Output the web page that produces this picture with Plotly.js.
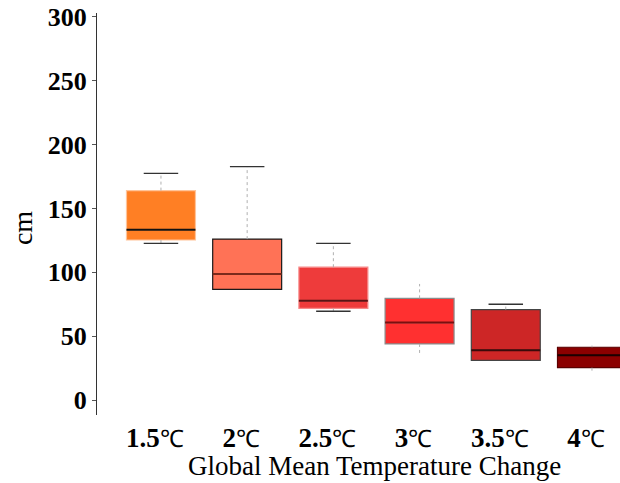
<!DOCTYPE html>
<html><head><meta charset="utf-8">
<script src="https://cdn.plot.ly/plotly-3.0.1.min.js"></script>
<style>body{margin:0;background:#fff}</style></head>
<body><div id="chart" style="width:620px;height:483px"></div>
<script>
const categories = ["1.5", "2", "2.5", "3", "3.5", "4"];
const lowerWhisker = [122.7, 86.7, 69.5, 35.8, 31.1, 22.7];
const q1 = [125.3, 86.7, 71.8, 43.9, 31.1, 25.3];
const median = [133.4, 98.7, 77.8, 60.6, 38.9, 35.0];
const q3 = [164.0, 126.0, 104.0, 79.6, 70.8, 41.3];
const upperWhisker = [177.5, 182.8, 122.7, 90.9, 75.0, 42.6];
const hasCaps = [true, true, true, false, true, false];
const fillColors = ["#FF7F24", "#FF7256", "#EE3B3B", "#FF3030", "#CD2626", "#8B0000"];
const outlineColors = ["#FFC49A", "#1a1a1a", "#F78A8A", "#8a8a8a", "#444444", "#5a0000"];
const medianColors = ["#111111", "#7a2a1c", "#5a1515", "#7a1010", "#3a0a0a", "#1a0000"];

const BOX_W = 0.8, CAP_HALF = 0.2;
const traces = [];
const idx = categories.map((c, i) => i);

// whiskers (dotted)
const wx = [], wy = [];
idx.forEach(i => {
  wx.push(i, i, null, i, i, null);
  wy.push(q3[i], upperWhisker[i], null, q1[i], lowerWhisker[i], null);
});
traces.push({type: 'scatter', mode: 'lines', x: wx, y: wy, hoverinfo: 'skip',
  line: {color: '#b0b0b0', width: 1, dash: 'dot'}, showlegend: false});

// boxes
idx.forEach(i => {
  traces.push({type: 'box', x: [i], q1: [q1[i]], median: [median[i]], q3: [q3[i]],
    lowerfence: [q1[i]], upperfence: [q3[i]], width: BOX_W, whiskerwidth: 0,
    boxpoints: false, fillcolor: fillColors[i],
    line: {color: outlineColors[i], width: 1.2}, showlegend: false});
});

// medians
idx.forEach(i => {
  traces.push({type: 'scatter', mode: 'lines', x: [i - BOX_W / 2, i + BOX_W / 2], y: [median[i], median[i]],
    line: {color: medianColors[i], width: 2}, hoverinfo: 'skip', showlegend: false});
});

// caps
const cx = [], cy = [];
idx.forEach(i => {
  if (!hasCaps[i]) return;
  if (upperWhisker[i] > q3[i]) { cx.push(i - CAP_HALF, i + CAP_HALF, null); cy.push(upperWhisker[i], upperWhisker[i], null); }
  if (lowerWhisker[i] < q1[i]) { cx.push(i - CAP_HALF, i + CAP_HALF, null); cy.push(lowerWhisker[i], lowerWhisker[i], null); }
});
traces.push({type: 'scatter', mode: 'lines', x: cx, y: cy, hoverinfo: 'skip',
  line: {color: '#333333', width: 1.3}, showlegend: false});

const layout = {
  width: 620, height: 483,
  margin: {l: 97, r: 0, t: 13, b: 68},
  paper_bgcolor: '#fff', plot_bgcolor: '#fff',
  boxmode: 'overlay',
  font: {family: 'Liberation Serif, Times New Roman, serif', color: '#000'},
  xaxis: {
    range: [-0.742, 5.325], showgrid: false, zeroline: false, showline: false,
    tickmode: 'array', tickvals: idx,
    ticktext: categories.map(c => '<b>' + c + '</b><span style="font-size:24px">℃</span>'),
    tickfont: {size: 27, family: 'Liberation Serif, serif'}, ticks: '',
    ticklabelstandoff: 4, ticklabelshift: -6
  },
  yaxis: {
    range: [-11.75, 303.1], showgrid: false, zeroline: false,
    showline: true, linecolor: '#333', linewidth: 1,
    ticks: 'outside', ticklen: 4, tickcolor: '#555', tickvals: [0, 50, 100, 150, 200, 250, 300],
    tickfont: {size: 26, family: 'Liberation Serif, serif', weight: 'bold'}
  },
  annotations: [{
    text: 'cm', xref: 'paper', yref: 'paper', x: -0.1434, y: 0.465,
    xanchor: 'center', yanchor: 'middle', textangle: -90, showarrow: false,
    font: {size: 28, family: 'Liberation Serif, serif'}
  }, {
    text: 'Global Mean Temperature Change', xref: 'paper', yref: 'paper', x: 0.5315, y: -0.1269,
    xanchor: 'center', yanchor: 'middle', showarrow: false,
    font: {size: 27, family: 'Liberation Serif, serif'}
  }]
};
Plotly.newPlot('chart', traces, layout, {displayModeBar: false, staticPlot: true});
</script></body></html>
